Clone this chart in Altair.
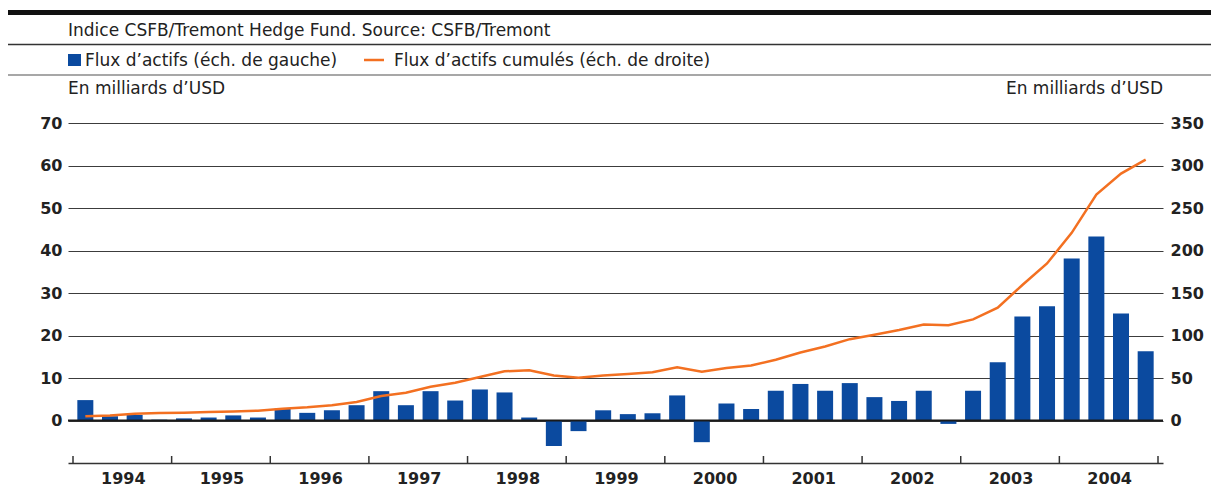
import altair as alt
import pandas as pd

# ---------------- data ----------------
years = list(range(1994, 2005))
year_ticks = list(range(1994, 2006))
quarters = [1, 2, 3, 4]

# quarterly asset flows, USD bn (left scale)
flows = [
    4.8, 1.0, 1.3, 0.2,     # 1994
    0.5, 0.7, 1.2, 0.7,     # 1995
    2.8, 1.8, 2.4, 3.6,     # 1996
    6.9, 3.6, 6.9, 4.7,     # 1997
    7.3, 6.6, 0.7, -6.0,    # 1998
    -2.5, 2.4, 1.5, 1.7,    # 1999
    5.9, -5.1, 4.0, 2.7,    # 2000
    7.0, 8.6, 7.0, 8.8,     # 2001
    5.5, 4.6, 7.0, -0.8,    # 2002
    7.0, 13.7, 24.5, 26.9,  # 2003
    38.1, 43.3, 25.2, 16.3, # 2004
]

# cumulative asset flows, USD bn (right scale)
cumul = [
    5.0, 6.0, 8.0, 8.7,
    9.1, 9.9, 10.7, 11.5,
    13.9, 15.5, 17.9, 21.8,
    28.7, 32.7, 39.8, 44.5,
    51.2, 57.9, 59.0, 53.0,
    50.4, 52.8, 54.7, 56.7,
    62.6, 57.5, 61.8, 64.6,
    71.5, 80.0, 87.0, 95.7,
    101.0, 106.5, 112.8, 112.0,
    119.0, 132.8, 159.4, 184.8,
    220.8, 265.8, 290.5, 307.0,
]

left_ticks = [0, 10, 20, 30, 40, 50, 60, 70]
right_ticks = [0, 50, 100, 150, 200, 250, 300, 350]

subtitle = "Indice CSFB/Tremont Hedge Fund. Source: CSFB/Tremont"
legend_bar = "Flux d\u2019actifs (\u00e9ch. de gauche)"
legend_line = "Flux d\u2019actifs cumul\u00e9s (\u00e9ch. de droite)"
unit_label = "En milliards d\u2019USD"

# ---------------- build ----------------
pos = [y + (q - 0.5) / 4 for y in years for q in quarters]
df = pd.DataFrame({"pos": pos, "flux": flows, "cumul": cumul})

W, H = 1095, 340
PAD_L, PAD_T, PAD_R, PAD_B = 60, 115, 48, 23
FONT = "DejaVu Sans"
BLUE = "#0B4A9F"
ORANGE = "#F37021"
TXT = "#222222"

x_scale = alt.Scale(domain=[1994, 2005], nice=False, zero=False)
yl_scale = alt.Scale(domain=[-10, 70], nice=False, zero=False)
yr_scale = alt.Scale(domain=[-50, 350], nice=False, zero=False)

x_axis = alt.Axis(
    values=year_ticks, format="d", title=None, ticks=False, grid=False,
    labelOffset=W / 11 / 2, labelFlush=False, labelOverlap=False,
    labelExpr="datum.value >= 2005 ? '' : datum.label",
    labelFontSize=16, labelFontWeight="bold", labelColor=TXT, labelPadding=7,
    labelFont=FONT, domainColor="#333333", domainWidth=1.5,
)
yl_axis = alt.Axis(
    orient="left", values=left_ticks, title=None, ticks=False, domain=False,
    grid=True, gridColor="#3c3c3c", gridWidth=1,
    labelFontSize=16, labelFontWeight="bold", labelColor=TXT,
    labelPadding=6, labelFont=FONT,
)
yr_axis = alt.Axis(
    orient="right", values=right_ticks, title=None, ticks=False, domain=False,
    grid=False, labelFontSize=16, labelFontWeight="bold", labelColor=TXT,
    labelPadding=7, labelFont=FONT,
)

bars = alt.Chart(df).mark_bar(size=16, color=BLUE).encode(
    x=alt.X("pos:Q", scale=x_scale, axis=x_axis),
    y=alt.Y("flux:Q", scale=yl_scale, axis=yl_axis),
)

zero_rule = alt.Chart(pd.DataFrame({"flux": [0]})).mark_rule(
    color="#1a1a1a", strokeWidth=2).encode(y=alt.Y("flux:Q", scale=yl_scale, axis=yl_axis))

left_layer = alt.layer(bars, zero_rule)

line = alt.Chart(df).mark_line(color=ORANGE, strokeWidth=2.5).encode(
    x=alt.X("pos:Q", scale=x_scale, axis=x_axis),
    y=alt.Y("cumul:Q", scale=yr_scale, axis=yr_axis),
)

year_tick_rules = alt.Chart(pd.DataFrame({"pos": year_ticks})).mark_rule(
    color="#333333", strokeWidth=1.5).encode(
    x=alt.X("pos:Q", scale=x_scale, axis=x_axis),
    y=alt.value(H - 7), y2=alt.value(H),
)

# header decorations
top_bar = alt.Chart(pd.DataFrame({"a": [0]})).mark_rule(color="#111111", strokeWidth=5).encode(
    x=alt.value(-PAD_L), x2=alt.value(W + PAD_R), y=alt.value(-110.5))
sep1 = alt.Chart(pd.DataFrame({"a": [0]})).mark_rule(color="#333333", strokeWidth=1.3).encode(
    x=alt.value(-PAD_L), x2=alt.value(W + PAD_R), y=alt.value(-78.5))
sep2 = alt.Chart(pd.DataFrame({"a": [0]})).mark_rule(color="#8a8a8a", strokeWidth=1.6).encode(
    x=alt.value(-PAD_L), x2=alt.value(W + PAD_R), y=alt.value(-48))

def label(text, x, y, align="left"):
    return alt.Chart(pd.DataFrame({"t": [text]})).mark_text(
        align=align, baseline="alphabetic", font=FONT, fontSize=17, color=TXT
    ).encode(x=alt.value(x), y=alt.value(y), text="t:N")

sub_txt = label(subtitle, 0, -87.5)
leg_sq = alt.Chart(pd.DataFrame({"a": [0]})).mark_rect(color=BLUE).encode(
    x=alt.value(0), x2=alt.value(13), y=alt.value(-69), y2=alt.value(-57))
leg_txt1 = label(legend_bar, 17, -57.5)
leg_ln = alt.Chart(pd.DataFrame({"a": [0]})).mark_rule(color=ORANGE, strokeWidth=2.5).encode(
    x=alt.value(296), x2=alt.value(316), y=alt.value(-63))
leg_txt2 = label(legend_line, 326, -57.5)
unit_l = label(unit_label, 0, -29)
unit_r = label(unit_label, W, -29, align="right")

chart = alt.layer(
    left_layer, line, year_tick_rules,
    top_bar, sep1, sep2, sub_txt, leg_sq, leg_txt1, leg_ln, leg_txt2, unit_l, unit_r,
).resolve_scale(y="independent").properties(
    width=W, height=H, autosize="none",
    padding={"left": PAD_L, "top": PAD_T, "right": PAD_R, "bottom": PAD_B},
    background="white",
).configure_view(stroke=None)

chart.save("out.html", embed_options={"renderer": "svg", "actions": False})
